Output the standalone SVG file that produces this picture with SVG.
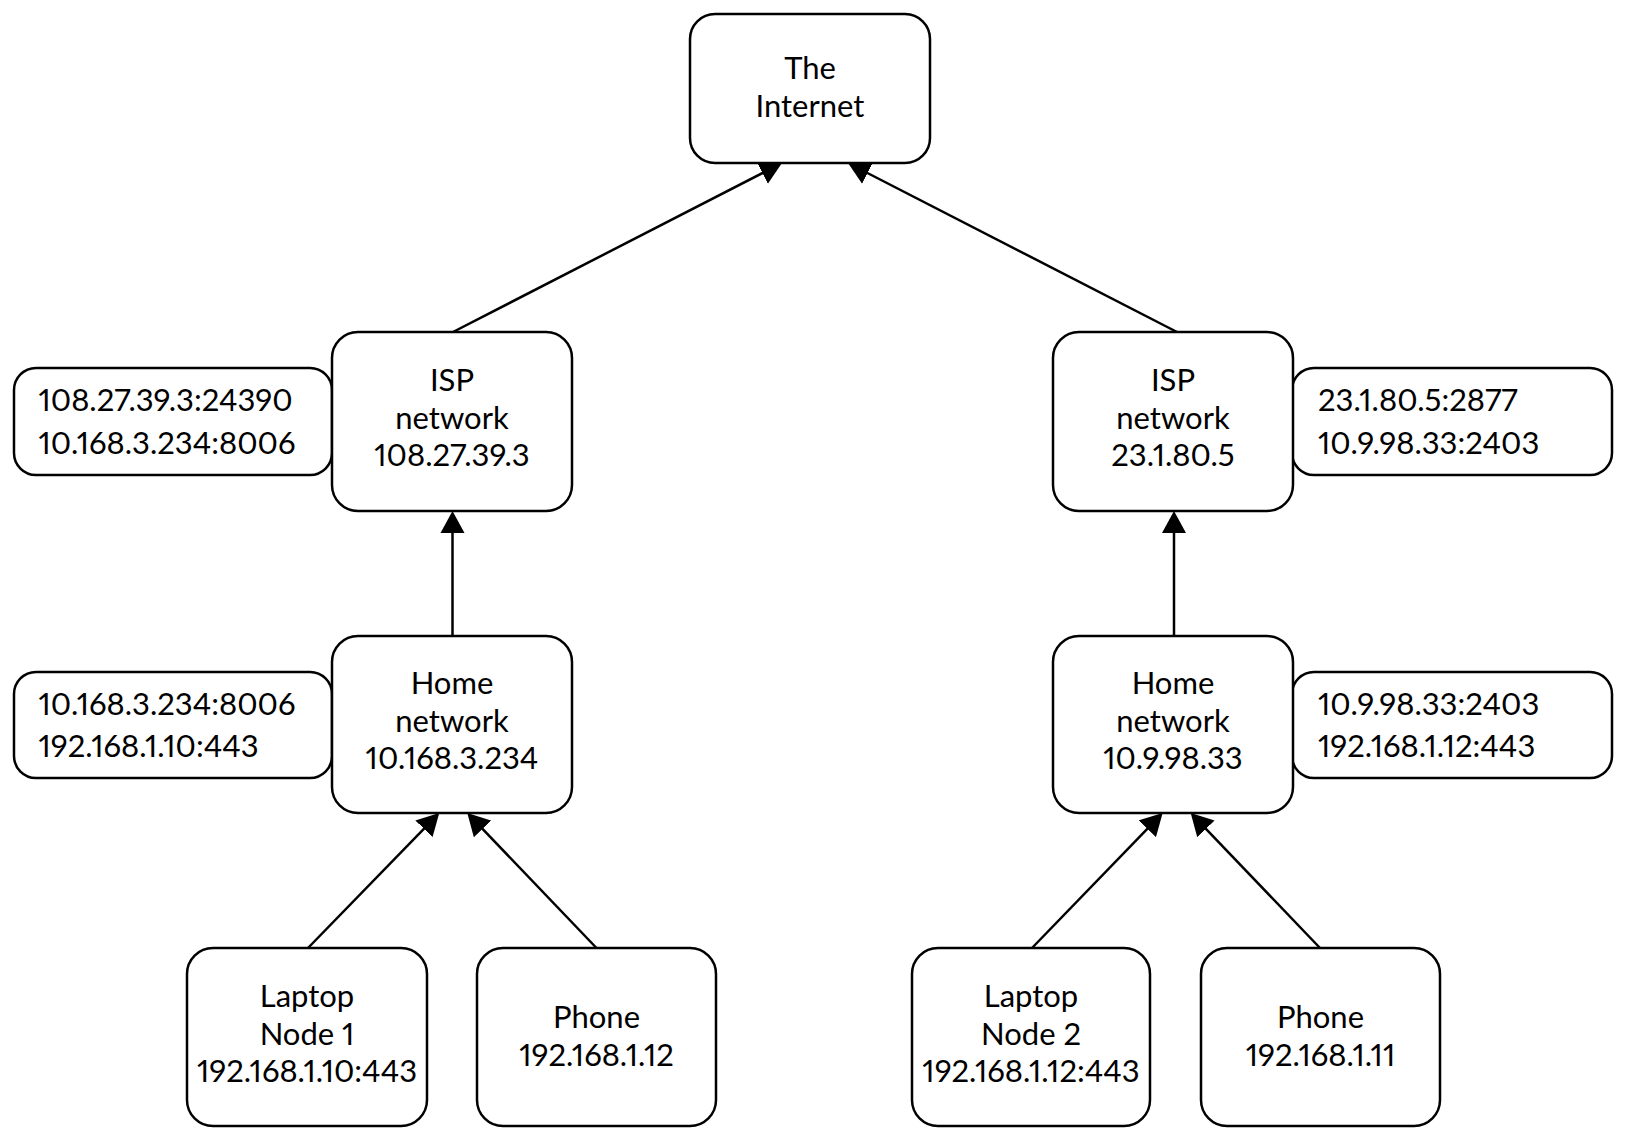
<svg xmlns="http://www.w3.org/2000/svg" width="1628" height="1137" viewBox="0 0 1628 1137">
  <defs>
    <style>
      .box { fill: #ffffff; stroke: #000000; stroke-width: 2.5; }
      .lbl { fill: #ffffff; stroke: #000000; stroke-width: 2.5; }
      .edge { fill: none; stroke: #000000; stroke-width: 2.5; marker-end: url(#arrow); }
      text { font-family: Lato, "Liberation Sans", sans-serif; font-size: 31px; fill: #000000; font-variant-numeric: proportional-nums; font-feature-settings: "pnum" 1; }
      .c { text-anchor: middle; }
    </style>
    <marker id="arrow" markerUnits="userSpaceOnUse" markerWidth="23" markerHeight="25" refX="10" refY="12" orient="auto" viewBox="0 0 23 24">
      <path d="M0,0 L22,12 L0,24 Z" fill="#000000"/>
    </marker>
  </defs>
  <rect width="1628" height="1137" fill="#ffffff"/>

  <!-- connectors -->
  <g id="connectors">
    <line class="edge" x1="453" y1="332" x2="771.3" y2="168.5"/>
    <line class="edge" x1="1177" y1="332" x2="858.7" y2="168.5"/>
    <line class="edge" x1="452.5" y1="636" x2="452.5" y2="523"/>
    <line class="edge" x1="1174" y1="636" x2="1174" y2="523"/>
    <line class="edge" x1="308" y1="948" x2="430.9" y2="821.6"/>
    <line class="edge" x1="596.5" y1="948" x2="475.6" y2="821.7"/>
    <line class="edge" x1="1032" y1="948" x2="1154.3" y2="821.6"/>
    <line class="edge" x1="1320" y1="948" x2="1199" y2="821.7"/>
  </g>

  <!-- address labels beside the routers -->
  <g id="label-isp-left">
    <rect class="lbl" x="14" y="368" width="318" height="107" rx="22"/>
    <text x="38.5" y="410.5">108.27.39.3:24390</text>
    <text x="38.5" y="454">10.168.3.234:8006</text>
  </g>
  <g id="label-home-left">
    <rect class="lbl" x="14" y="672" width="318" height="106" rx="22"/>
    <text x="38.5" y="715">10.168.3.234:8006</text>
    <text x="38.5" y="756.5">192.168.1.10:443</text>
  </g>
  <g id="label-isp-right">
    <rect class="lbl" x="1292" y="368" width="320" height="107" rx="22"/>
    <text x="1318" y="410.5">23.1.80.5:2877</text>
    <text x="1318" y="454">10.9.98.33:2403</text>
  </g>
  <g id="label-home-right">
    <rect class="lbl" x="1292" y="672" width="320" height="106" rx="22"/>
    <text x="1318" y="715">10.9.98.33:2403</text>
    <text x="1318" y="756.5">192.168.1.12:443</text>
  </g>

  <!-- nodes -->
  <g id="internet">
    <rect class="box" x="690" y="14" width="240" height="149" rx="25"/>
    <text class="c" x="810" y="79">The</text>
    <text class="c" x="810" y="117">Internet</text>
  </g>
  <g id="isp-left">
    <rect class="box" x="332" y="332" width="240" height="179" rx="26"/>
    <text class="c" x="452" y="391">ISP</text>
    <text class="c" x="452" y="428.5">network</text>
    <text class="c" x="452" y="466">108.27.39.3</text>
  </g>
  <g id="home-left">
    <rect class="box" x="332" y="636" width="240" height="177" rx="26"/>
    <text class="c" x="452" y="694">Home</text>
    <text class="c" x="452" y="731.5">network</text>
    <text class="c" x="452" y="769">10.168.3.234</text>
  </g>
  <g id="laptop-1">
    <rect class="box" x="187" y="948" width="240" height="178" rx="26"/>
    <text class="c" x="307" y="1007">Laptop</text>
    <text class="c" x="307" y="1045">Node 1</text>
    <text class="c" x="307" y="1082">192.168.1.10:443</text>
  </g>
  <g id="phone-1">
    <rect class="box" x="477" y="948" width="239" height="178" rx="26"/>
    <text class="c" x="596.5" y="1028">Phone</text>
    <text class="c" x="596.5" y="1066">192.168.1.12</text>
  </g>
  <g id="isp-right">
    <rect class="box" x="1053" y="332" width="240" height="179" rx="26"/>
    <text class="c" x="1173" y="391">ISP</text>
    <text class="c" x="1173" y="428.5">network</text>
    <text class="c" x="1173" y="466">23.1.80.5</text>
  </g>
  <g id="home-right">
    <rect class="box" x="1053" y="636" width="240" height="177" rx="26"/>
    <text class="c" x="1173" y="694">Home</text>
    <text class="c" x="1173" y="731.5">network</text>
    <text class="c" x="1173" y="769">10.9.98.33</text>
  </g>
  <g id="laptop-2">
    <rect class="box" x="912" y="948" width="238" height="178" rx="26"/>
    <text class="c" x="1031" y="1007">Laptop</text>
    <text class="c" x="1031" y="1045">Node 2</text>
    <text class="c" x="1031" y="1082">192.168.1.12:443</text>
  </g>
  <g id="phone-2">
    <rect class="box" x="1201" y="948" width="239" height="178" rx="26"/>
    <text class="c" x="1320.5" y="1028">Phone</text>
    <text class="c" x="1320.5" y="1066">192.168.1.11</text>
  </g>
</svg>
